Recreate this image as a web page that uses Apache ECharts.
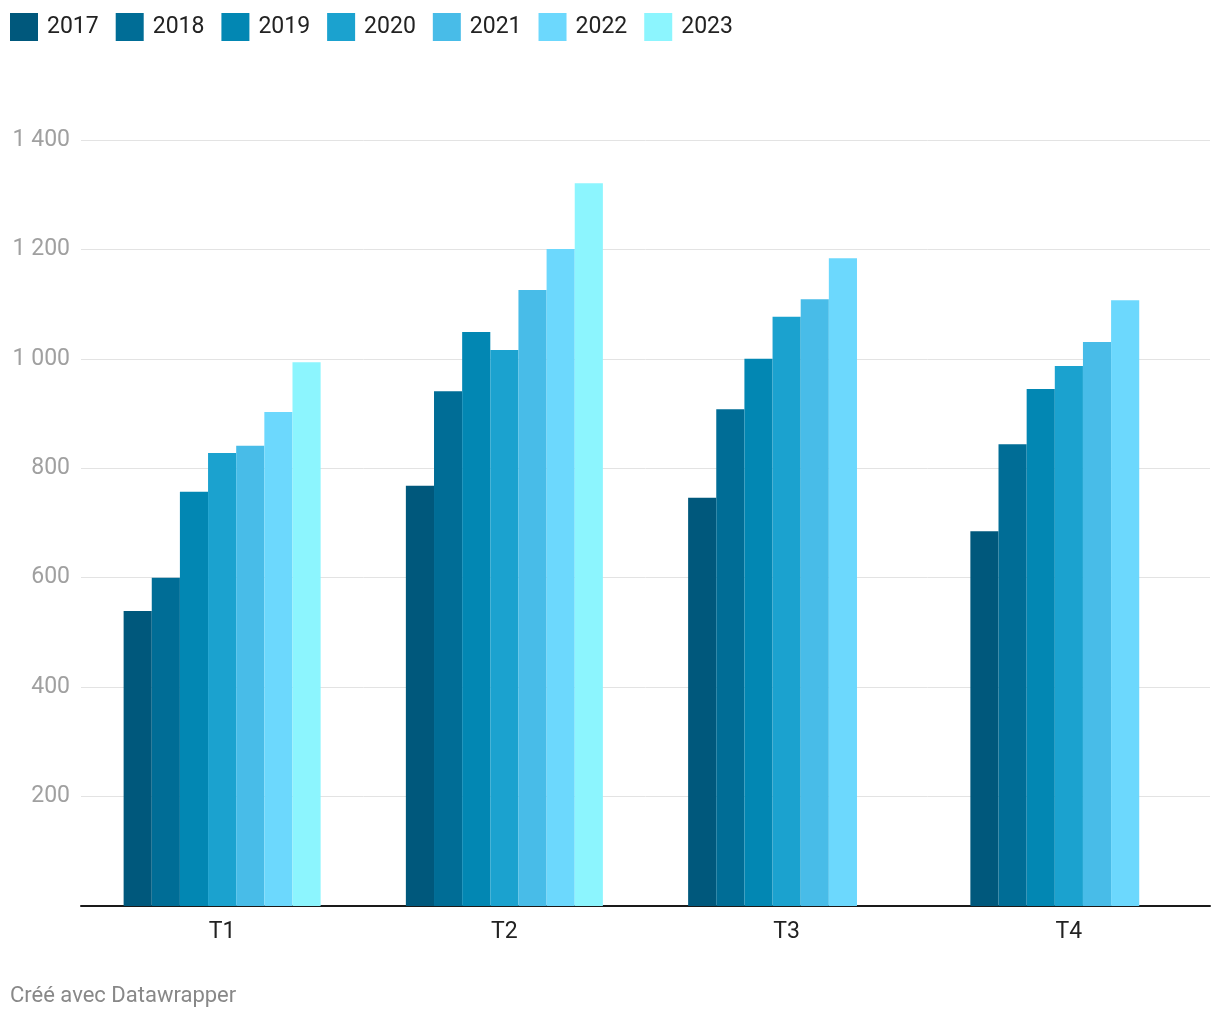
<!DOCTYPE html>
<html><head><meta charset="utf-8">
<script src="https://cdn.jsdelivr.net/npm/echarts@6/dist/echarts.min.js"></script>
<style>html,body{margin:0;padding:0;background:#fff}#c{width:1220px;height:1020px}</style>
</head><body><div id="c"></div>
<script>
const categories = ['T1', 'T2', 'T3', 'T4'];
const years = ['2017', '2018', '2019', '2020', '2021', '2022', '2023'];
const v2017 = [539, 768, 746, 685];
const v2018 = [600, 941, 908, 844];
const v2019 = [757, 1049, 1000, 945];
const v2020 = [828, 1016, 1077, 987];
const v2021 = [841, 1126, 1109, 1031];
const v2022 = [903, 1201, 1184, 1107];
const v2023 = [994, 1321, null, null];
const seriesValues = [v2017, v2018, v2019, v2020, v2021, v2022, v2023];
const yTicks = [0, 200, 400, 600, 800, 1000, 1200, 1400];
const colors = ['#00587c', '#006d96', '#0287b3', '#1ba2cf', '#48bce8', '#6cd8fd', '#8cf5fe'];

const chart = echarts.init(document.getElementById('c'), null, {renderer: 'canvas'});
chart.setOption({
  animation: false,
  textStyle: {fontFamily: 'Roboto'},
  color: colors,
  legend: {
    left: 10, top: 13, padding: 0, itemWidth: 28, itemHeight: 28, itemGap: 17,
    icon: 'rect',
    textStyle: {fontSize: 23, color: '#222', fontFamily: 'Roboto', padding: [0, 0, 0, 4]},
    data: years
  },
  grid: {left: 81, right: 10, top: 140, bottom: 114, containLabel: false},
  xAxis: {
    type: 'category', data: categories,
    axisLine: {lineStyle: {color: '#1a1a1a', width: 2}},
    axisTick: {show: false},
    axisLabel: {fontSize: 23, color: '#222', margin: 15, fontFamily: 'Roboto'}
  },
  yAxis: {
    type: 'value', min: 0, max: 1400, interval: 200,
    axisLine: {show: false}, axisTick: {show: false},
    splitLine: {lineStyle: {color: '#e3e3e3', width: 1}},
    axisLabel: {
      fontSize: 23, color: '#a0a0a0', margin: 11, fontFamily: 'Roboto',
      formatter: function (v) { return v === 0 ? '' : String(v).replace(/\B(?=(\d{3})+(?!\d))/g, ' '); }
    }
  },
  series: years.map((y, i) => ({
    name: y, type: 'bar', data: seriesValues[i],
    barGap: '0%', barCategoryGap: '30.2%',
    itemStyle: {color: colors[i]}
  })),
  graphic: [{
    type: 'text', left: 10, top: 985,
    style: {text: 'Créé avec Datawrapper', fontSize: 22, fill: '#888', fontFamily: 'Roboto'}
  }]
});
</script></body></html>
